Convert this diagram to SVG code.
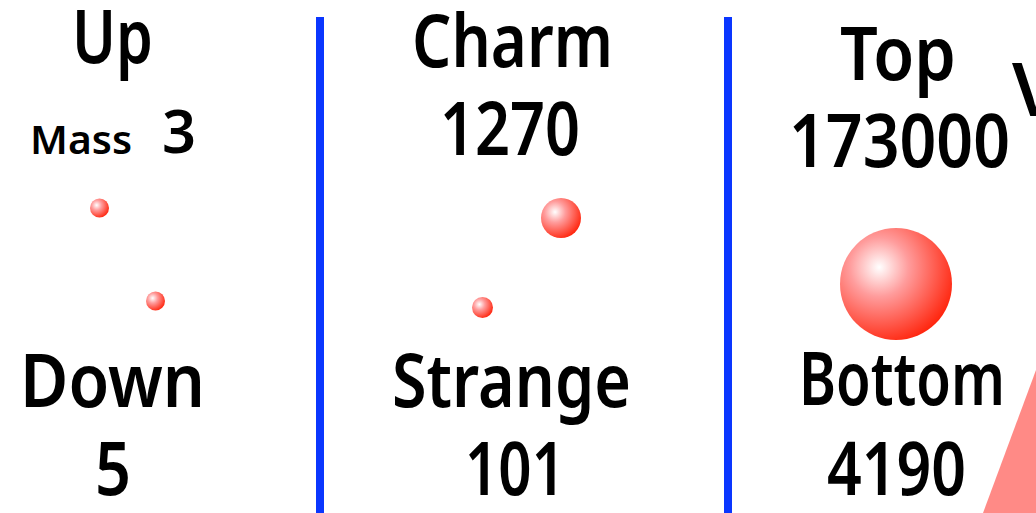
<svg xmlns="http://www.w3.org/2000/svg" width="1036" height="513" viewBox="0 0 1036 513">
<style>
  text { font-family: "Noto Sans", "DejaVu Sans", sans-serif; font-weight: 600; fill: #000; }
  .big { font-size: 74px; }
  .small { font-size: 40px; }
  .mid { font-size: 60px; }
  .divider { stroke: #0a36ff; stroke-width: 8; }
  .ball { fill: url(#sphere); }
</style>
<defs>
  <radialGradient id="sphere" cx="0.35" cy="0.35" fx="0.35" fy="0.35" r="0.75">
    <stop offset="0" stop-color="#ffffff"/>
    <stop offset="0.35" stop-color="#ff9c9c"/>
    <stop offset="1" stop-color="#ff1a00"/>
  </radialGradient>
</defs>
<rect width="1036" height="513" fill="#ffffff"/>
<g id="dividers">
  <line class="divider" x1="320" y1="17" x2="320" y2="513"/>
  <line class="divider" x1="728" y1="17" x2="728" y2="513"/>
</g>
<g id="up">
  <text class="big" x="72" y="63" textLength="81" lengthAdjust="spacingAndGlyphs">Up</text>
  <text class="small" x="30" y="154" textLength="102" lengthAdjust="spacingAndGlyphs">Mass</text>
  <text class="mid" x="162" y="153" textLength="34" lengthAdjust="spacingAndGlyphs">3</text>
  <circle class="ball" cx="99.5" cy="208" r="9.5"/>
</g>
<g id="down">
  <circle class="ball" cx="155.5" cy="301" r="9.5"/>
  <text class="big" x="20" y="407" textLength="185" lengthAdjust="spacingAndGlyphs">Down</text>
  <text class="big" x="95" y="495" textLength="36" lengthAdjust="spacingAndGlyphs">5</text>
</g>
<g id="charm">
  <text class="big" x="412" y="67" textLength="201" lengthAdjust="spacingAndGlyphs">Charm</text>
  <text class="big" x="440" y="155" textLength="140" lengthAdjust="spacingAndGlyphs">1270</text>
  <circle class="ball" cx="561" cy="218" r="20"/>
</g>
<g id="strange">
  <circle class="ball" cx="482.5" cy="307.5" r="10.5"/>
  <text class="big" x="392" y="407" textLength="239" lengthAdjust="spacingAndGlyphs">Strange</text>
  <text class="big" x="465" y="495" textLength="100" lengthAdjust="spacingAndGlyphs">101</text>
</g>
<g id="top">
  <text class="big" x="840" y="80" textLength="116" lengthAdjust="spacingAndGlyphs">Top</text>
  <text class="big" x="789" y="167" textLength="221" lengthAdjust="spacingAndGlyphs">173000</text>
  <circle class="ball" cx="896" cy="284" r="56"/>
</g>
<g id="bottom">
  <text class="big" x="799" y="405" textLength="206" lengthAdjust="spacingAndGlyphs">Bottom</text>
  <text class="big" x="827" y="495" textLength="139" lengthAdjust="spacingAndGlyphs">4190</text>
</g>
<g id="edge">
  <text class="big" x="1012" y="116">V</text>
  <polygon points="1036,370 983,513 1036,513" fill="#ff8a86"/>
</g>
</svg>
